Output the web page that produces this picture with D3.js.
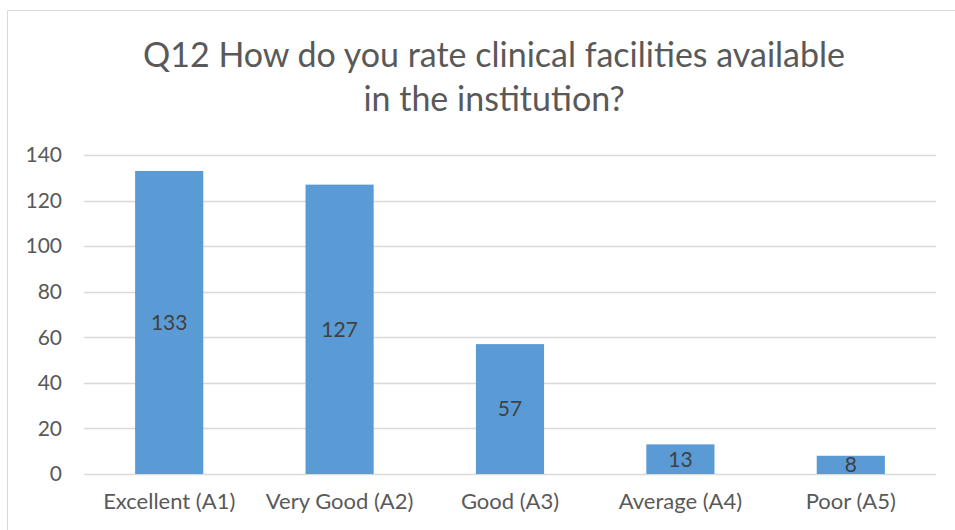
<!DOCTYPE html>
<html>
<head>
<meta charset="utf-8">
<script src="https://cdn.jsdelivr.net/npm/d3@7"></script>
<style>
  body { margin: 0; background: #fff; overflow: hidden; }
  svg { display: block; }
  text { font-family: Lato, "Open Sans", sans-serif; fill: #595959; }
</style>
</head>
<body>
<div id="chart"></div>
<script>
// Data
const categories = ["Excellent (A1)", "Very Good (A2)", "Good (A3)", "Average (A4)", "Poor (A5)"];
const values = [133, 127, 57, 13, 8];
const yTicks = [0, 20, 40, 60, 80, 100, 120, 140];
const titleLines = ["Q12 How do you rate clinical facilities available", "in the institution?"];

const width = 955,
      height = 530,
      margin = { top: 155, left: 84, bottom: 56, right: 19 },
      innerWidth = width - margin.left - margin.right,
      innerHeight = height - margin.top - margin.bottom;

const svg = d3.select("#chart").append("svg")
    .attr("width", width)
    .attr("height", height);

// Chart border (only the top and left edges fall inside the picture)
svg.append("path")
    .attr("d", "M7.5," + height + "V10.5H" + width)
    .style("fill", "none")
    .style("stroke", "#d9d9d9");

// Title
svg.append("g").selectAll("text")
    .data(titleLines)
  .enter().append("text")
    .attr("x", 494)
    .attr("y", (d, i) => 67 + i * 44)
    .attr("text-anchor", "middle")
    .style("font-size", "34px")
    .text(d => d);

// Scales
const xScale = d3.scaleBand()
    .domain(categories)
    .range([0, innerWidth])
    .paddingInner(0.6)
    .paddingOuter(0.3);

const yScale = d3.scaleLinear()
    .domain([0, 140])
    .range([innerHeight, 0]);

const g = svg.append("g")
    .attr("transform", "translate(" + margin.left + "," + margin.top + ")");

// Gridlines
g.append("g").selectAll("line")
    .data(yTicks)
  .enter().append("line")
    .attr("x1", 0)
    .attr("x2", innerWidth)
    .attr("y1", d => Math.round(yScale(d)) + 0.5)
    .attr("y2", d => Math.round(yScale(d)) + 0.5)
    .style("stroke", "#d9d9d9")
    .style("stroke-width", 1.5);

// Y axis labels
const yAxis = d3.axisLeft(yScale).tickValues(yTicks).tickSize(0).tickPadding(22);
g.append("g")
    .call(yAxis)
    .attr("font-size", 21)
    .attr("font-family", "Lato, 'Open Sans', sans-serif")
    .call(s => s.select(".domain").remove())
    .selectAll("text")
    .attr("fill", "#595959");

// Bars
const data = categories.map((c, i) => ({ name: c, value: values[i] }));

g.append("g").selectAll("rect")
    .data(data)
  .enter().append("rect")
    .attr("x", d => xScale(d.name))
    .attr("y", d => yScale(d.value))
    .attr("width", xScale.bandwidth())
    .attr("height", d => innerHeight - yScale(d.value))
    .style("fill", "#5b9bd5");

// Value labels
g.append("g").selectAll("text")
    .data(data)
  .enter().append("text")
    .attr("x", d => xScale(d.name) + xScale.bandwidth() / 2)
    .attr("y", d => (yScale(d.value) + innerHeight) / 2)
    .attr("dy", "0.35em")
    .attr("text-anchor", "middle")
    .style("font-size", "21px")
    .style("fill", "#404040")
    .text(d => d.value);

// X axis labels
const xAxis = d3.axisBottom(xScale).tickSize(0).tickPadding(19);
g.append("g")
    .attr("transform", "translate(0," + innerHeight + ")")
    .call(xAxis)
    .attr("font-size", 22)
    .attr("font-family", "Lato, 'Open Sans', sans-serif")
    .call(s => s.select(".domain").remove())
    .selectAll("text")
    .attr("fill", "#595959");
</script>
</body>
</html>
